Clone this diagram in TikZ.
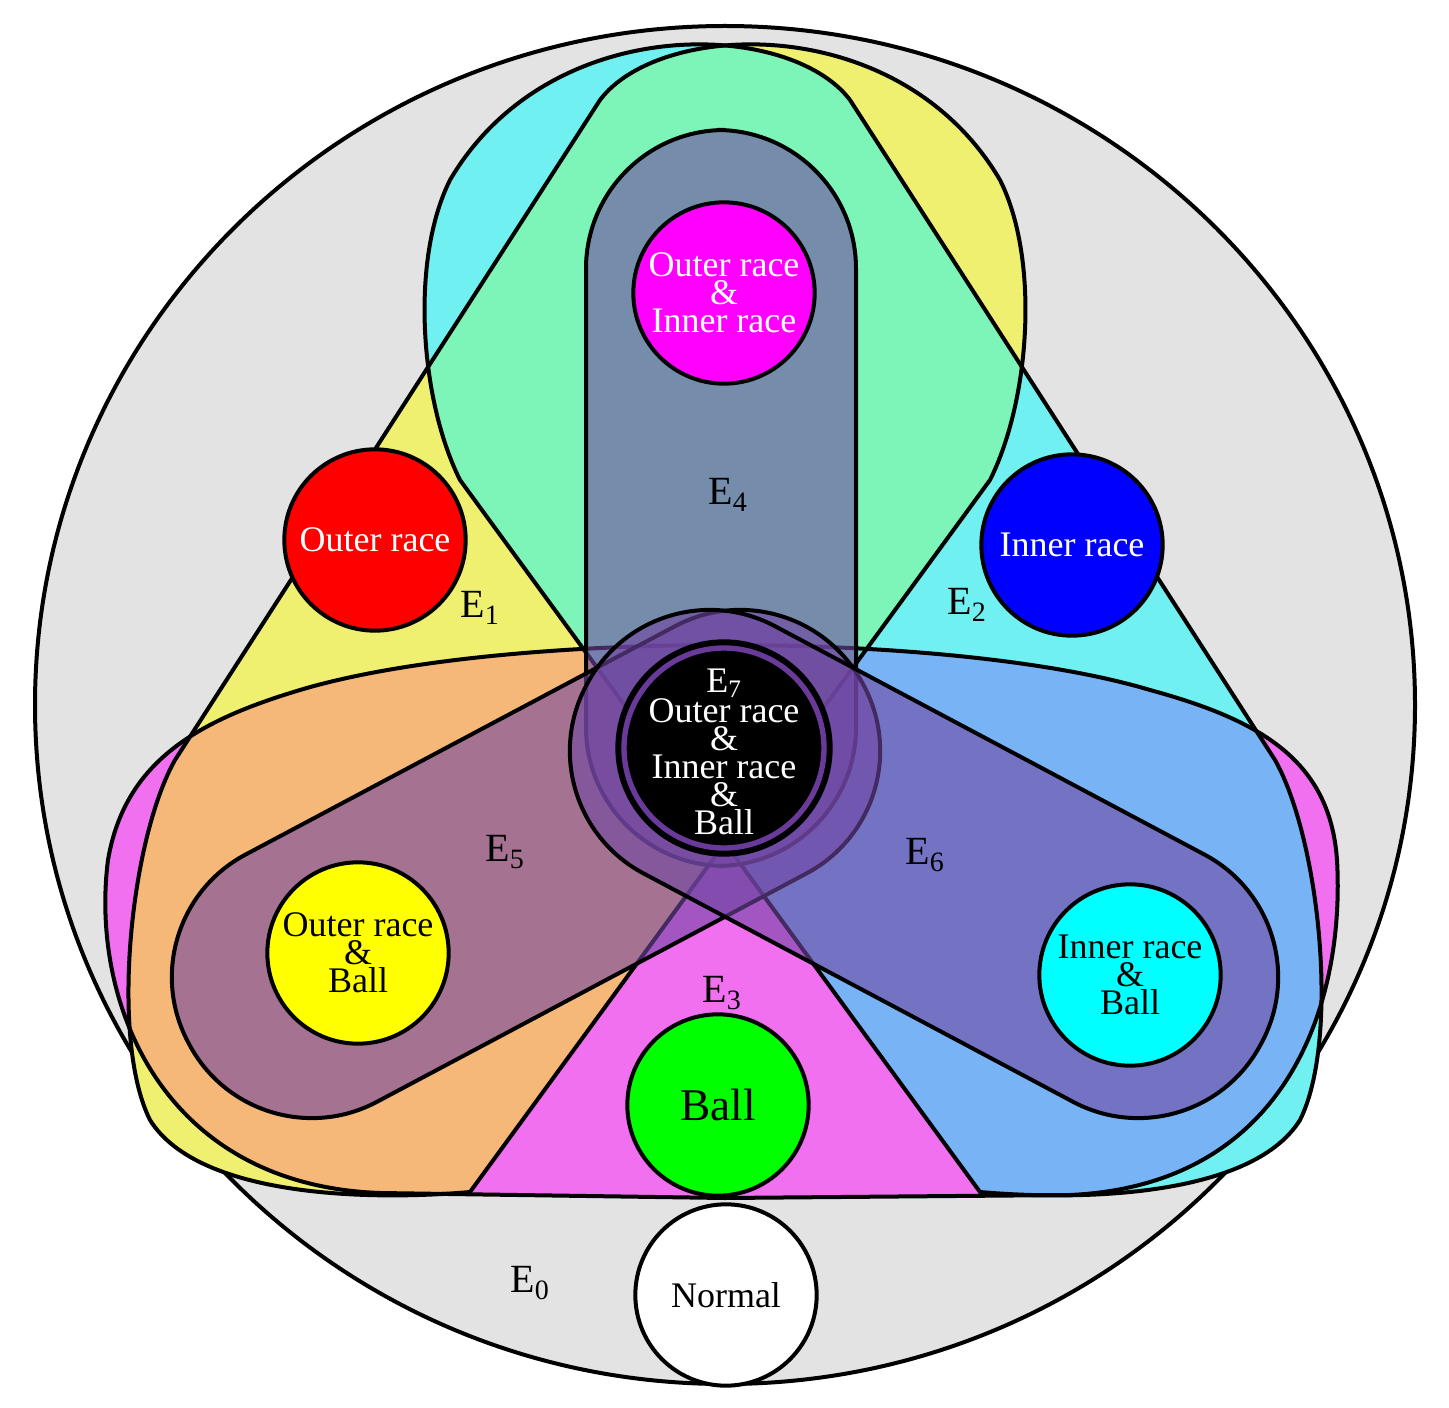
\documentclass[tikz,border=0pt]{standalone}
\usepackage{fontspec}
\setmainfont{Liberation Serif}
\begin{document}
\definecolor{bg}{HTML}{E3E3E3}
\definecolor{cY}{HTML}{F0F070}
\definecolor{cC}{HTML}{70F0F0}
\definecolor{cM}{HTML}{F070F0}
\definecolor{cYC}{HTML}{7EF5B8}
\definecolor{cYM}{HTML}{F5B878}
\definecolor{cCM}{HTML}{78B4F5}
\definecolor{cYCM}{HTML}{7DD9C0}
\definecolor{lobe}{RGB}{112,70,162}
\definecolor{ring}{HTML}{6A3A9A}
\definecolor{kMag}{HTML}{FF00FF}
\definecolor{kRed}{HTML}{FF0000}
\definecolor{kBlue}{HTML}{0000FF}
\definecolor{kYel}{HTML}{FFFF00}
\definecolor{kCy}{HTML}{00FFFF}
\definecolor{kGr}{HTML}{00FF00}
\begin{tikzpicture}[x=0.75pt,y=-0.75pt,
  ol/.style={draw=black,line width=3pt},
  lob/.style={fill=lobe,fill opacity=0.6,draw=black,line width=3pt,rounded corners=104pt},
  cls/.style={circle,draw=black,line width=3pt,minimum size=136pt,inner sep=0pt,align=center,font=\fontsize{27}{21}\selectfont},
  lab/.style={font=\fontsize{30}{30}\selectfont}]
\def\pathY{(175,760) -- (600,100) .. controls (660,20) and (900,10) .. (1000,180) .. controls (1040,260) and (1030,400) .. (990,480) -- (470,1192) .. controls (380,1200) and (200,1200) .. (150,1120) .. controls (110,1040) and (130,840) .. (175,760) -- cycle}
\def\pathC{(1275,760) -- (850,100) .. controls (790,20) and (550,10) .. (450,180) .. controls (410,260) and (420,400) .. (460,480) -- (980,1192) .. controls (1070,1200) and (1250,1200) .. (1300,1120) .. controls (1340,1040) and (1320,840) .. (1275,760) -- cycle}
\def\pathM{(725,1198) -- (380,1193) .. controls (160,1185) and (90,1000) .. (108,860) .. controls (125,760) and (200,720) .. (300,690) .. controls (500,630) and (950,630) .. (1150,690) .. controls (1260,720) and (1330,760) .. (1337,860) .. controls (1345,1000) and (1290,1185) .. (1070,1195) -- cycle}
\useasboundingbox (0,0) rectangle (1449,1408);
\fill[white] (0,0) rectangle (1449,1408);
\draw[fill=bg,line width=3pt] (725,705) ellipse [x radius=690,y radius=679];
\fill[cY] \pathY;
\fill[cC] \pathC;
\fill[cM] \pathM;
\begin{scope}\clip \pathY; \fill[cYC] \pathC; \end{scope}
\begin{scope}\clip \pathY; \fill[cYM] \pathM; \end{scope}
\begin{scope}\clip \pathC; \fill[cCM] \pathM; \end{scope}
\begin{scope}\clip \pathY; \clip \pathC; \fill[cYCM] \pathM; \end{scope}
\draw[ol] \pathY;
\draw[ol] \pathC;
\draw[ol] \pathM;
% lobes
\draw[lob] (586,130) rectangle (856,866);
\begin{scope}[rotate around={28:(526,864)}]
\draw[lob] (144,724) rectangle (908,1004);
\end{scope}
\begin{scope}[rotate around={-28:(924,864)}]
\draw[lob] (542,724) rectangle (1306,1004);
\end{scope}
% circles
\node[cls,fill=kMag,text=white] (oi) at (724,293) {Outer race\\\&\\Inner race};
\node[cls,fill=kRed,text=white] (o) at (375,540) {Outer race};
\node[cls,fill=kBlue,text=white] (i) at (1072,545) {Inner race};
\node[cls,fill=kYel] (ob) at (358,953) {Outer race\\\&\\Ball};
\node[cls,fill=kCy] (ib) at (1130,975) {Inner race\\\&\\Ball};
\node[cls,fill=kGr,font=\fontsize{34}{34}\selectfont] (b) at (718,1105) {Ball};
\node[cls,fill=white] (n) at (726,1295) {Normal};
\node[circle,fill=black,draw=black,line width=3pt,minimum size=160pt,inner sep=0pt] (e7) at (724,748) {};
\draw[ring,line width=4pt] (724,748) circle[radius=100];
\node[text=white,align=center,font=\fontsize{27}{21}\selectfont] (e7t) at (724,752) {E\textsubscript{7}\\Outer race\\\&\\Inner race\\\&\\Ball};
% labels
\node[lab] (l1) at (480,608) {E\textsubscript{1}};
\node[lab] (l2) at (967,605) {E\textsubscript{2}};
\node[lab] (l3) at (722,993) {E\textsubscript{3}};
\node[lab] (l4) at (728,495) {E\textsubscript{4}};
\node[lab] (l5) at (505,852) {E\textsubscript{5}};
\node[lab] (l6) at (925,855) {E\textsubscript{6}};
\node[lab] (l0) at (530,1283) {E\textsubscript{0}};
\end{tikzpicture}
\end{document}
